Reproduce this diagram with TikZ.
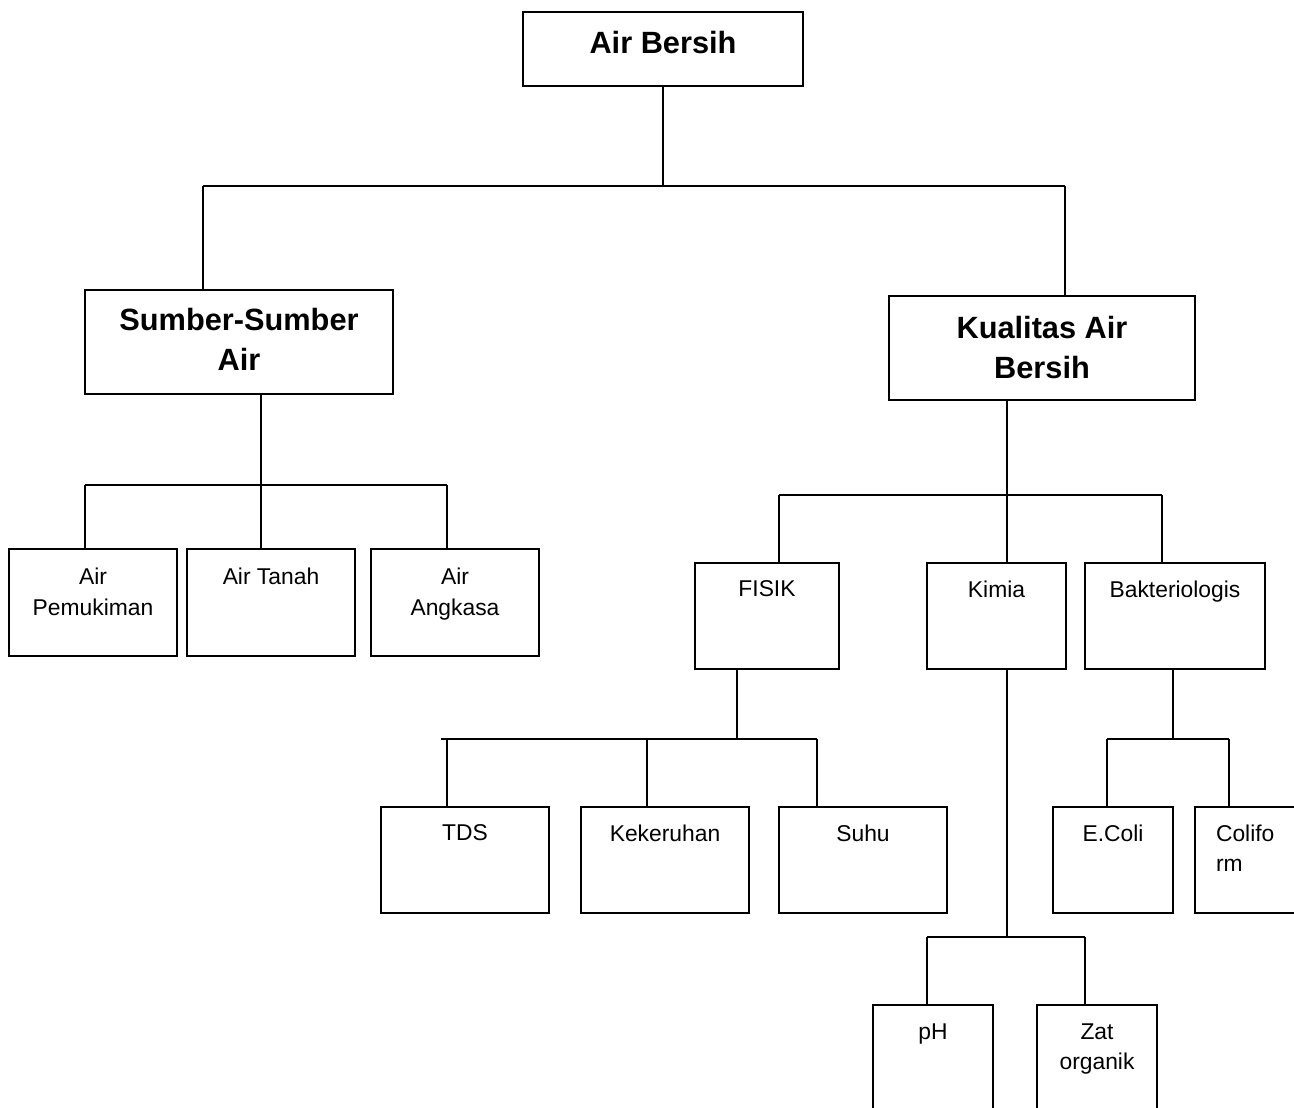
\documentclass[tikz,border=0pt]{standalone}
\usepackage{fontspec}
\setmainfont{Liberation Sans}
\usetikzlibrary{calc}

\begin{document}
\begin{tikzpicture}[x=0.02cm,y=-0.02cm,line width=1.1pt,
        box/.style={draw,inner sep=0pt},
        headbox/.style={box,minimum height=2.08cm},
        leafbox/.style={box,minimum width=3.36cm,minimum height=2.14cm},
        midbox/.style={box,minimum height=2.12cm},
        smallbox/.style={box,minimum width=2.4cm,minimum height=2.12cm},
        lbl/.style={anchor=north,inner sep=0pt,align=center,font=\fontsize{13}{17.5}\selectfont},
        headlbl/.style={anchor=north,inner sep=0pt,align=center,font=\fontsize{17.5}{23}\selectfont\bfseries}]
        \newcommand{\airbarAy}{186}
        \newcommand{\airbarBy}{485}
        \newcommand{\airbarCy}{495}
        \newcommand{\airbarDy}{739}
        \newcommand{\airbarEy}{937}
        \clip (0,0) rectangle (1294,1108);
        % boxes
        \node[box,minimum width=5.6cm,minimum height=1.48cm] (air) at (663,49) {};
        \node[headbox,minimum width=6.16cm] (sumber) at (239,342) {};
        \node[headbox,minimum width=6.12cm] (kualitas) at (1042,348) {};
        \node[leafbox] (pemukiman) at (93,602.5) {};
        \node[leafbox] (tanah) at (271,602.5) {};
        \node[leafbox] (angkasa) at (455,602.5) {};
        \node[midbox,minimum width=2.88cm] (fisik) at (767,616) {};
        \node[midbox,minimum width=2.78cm] (kimia) at (996.5,616) {};
        \node[midbox,minimum width=3.6cm] (bakteri) at (1175,616) {};
        \node[leafbox,minimum height=2.12cm] (tds) at (465,860) {};
        \node[leafbox,minimum height=2.12cm] (keruh) at (665,860) {};
        \node[leafbox,minimum height=2.12cm] (suhu) at (863,860) {};
        \node[smallbox] (ecoli) at (1113,860) {};
        \node[smallbox] (coliform) at (1255,860) {};
        \node[smallbox] (ph) at (933,1058) {};
        \node[smallbox] (zat) at (1097,1058) {};
        % labels
        \node[headlbl] (tair) at ([yshift=-0.38cm]air.north) {Air Bersih};
        \node[headlbl] (tsumber) at ([yshift=-0.36cm]sumber.north) {Sumber-Sumber\\Air};
        \node[headlbl] (tkualitas) at ([yshift=-0.4cm]kualitas.north) {Kualitas Air\\Bersih};
        \node[lbl] (tpemukiman) at ([yshift=-0.38cm]pemukiman.north) {Air\\Pemukiman};
        \node[lbl] (ttanah) at ([yshift=-0.38cm]tanah.north) {Air Tanah};
        \node[lbl] (tangkasa) at ([yshift=-0.38cm]angkasa.north) {Air\\Angkasa};
        \node[lbl] (tfisik) at ([yshift=-0.35cm]fisik.north) {FISIK};
        \node[lbl] (tkimia) at ([yshift=-0.35cm]kimia.north) {Kimia};
        \node[lbl] (tbakteri) at ([yshift=-0.35cm]bakteri.north) {Bakteriologis};
        \node[lbl] (ttds) at ([yshift=-0.35cm]tds.north) {TDS};
        \node[lbl] (tkeruh) at ([yshift=-0.35cm]keruh.north) {Kekeruhan};
        \node[lbl] (tsuhu) at ([yshift=-0.35cm]suhu.north) {Suhu};
        \node[lbl] (tecoli) at ([yshift=-0.35cm]ecoli.north) {E.Coli};
        \node[lbl,anchor=north west,align=left] (tcoliform) at ([xshift=0.42cm,yshift=-0.35cm]coliform.north west) {Colifo\\rm};
        \node[lbl] (tph) at ([yshift=-0.37cm]ph.north) {pH};
        \node[lbl] (tzat) at ([yshift=-0.37cm]zat.north) {Zat\\organik};
        % junctions
        \coordinate (jairl) at (203,\airbarAy);
        \coordinate (jairr) at (1065,\airbarAy);
        \coordinate (jsumm) at (261,\airbarBy);
        \coordinate (jsuml) at (85,\airbarBy);
        \coordinate (jsumr) at (447,\airbarBy);
        \coordinate (jkuam) at (1007,\airbarCy);
        \coordinate (jkual) at (779,\airbarCy);
        \coordinate (jkuar) at (1162,\airbarCy);
        \coordinate (jfism) at (737,\airbarDy);
        \coordinate (jfisl) at (441,\airbarDy);
        \coordinate (jfisa) at (447,\airbarDy);
        \coordinate (jfisb) at (647,\airbarDy);
        \coordinate (jfisr) at (817,\airbarDy);
        \coordinate (jbakm) at (1173,\airbarDy);
        \coordinate (jbakl) at (1107,\airbarDy);
        \coordinate (jbakr) at (1229,\airbarDy);
        \coordinate (jkiml) at (927,\airbarEy);
        \coordinate (jkimr) at (1085,\airbarEy);
        % connectors
        \draw (air.south) -- (air.south |- jairl);
        \draw (jairl) -- (jairr);
        \draw (jairl) -- (jairl |- sumber.north);
        \draw (jairr) -- (jairr |- kualitas.north);
        \draw (jsumm |- sumber.south) -- (jsumm);
        \draw (jsuml) -- (jsumr);
        \draw (jsuml) -- (jsuml |- pemukiman.north);
        \draw (jsumm) -- (jsumm |- tanah.north);
        \draw (jsumr) -- (jsumr |- angkasa.north);
        \draw (jkuam |- kualitas.south) -- (jkuam);
        \draw (jkual) -- (jkuar);
        \draw (jkual) -- (jkual |- fisik.north);
        \draw (jkuam) -- (jkuam |- kimia.north);
        \draw (jkuar) -- (jkuar |- bakteri.north);
        \draw (jfism |- fisik.south) -- (jfism);
        \draw (jfisl) -- (jfisr);
        \draw (jfisa) -- (jfisa |- tds.north);
        \draw (jfisb) -- (jfisb |- keruh.north);
        \draw (jfisr) -- (jfisr |- suhu.north);
        \draw (jkuam |- kimia.south) -- (jkuam |- jkiml);
        \draw (jkiml) -- (jkimr);
        \draw (jkiml) -- (jkiml |- ph.north);
        \draw (jkimr) -- (jkimr |- zat.north);
        \draw (jbakm |- bakteri.south) -- (jbakm);
        \draw (jbakl) -- (jbakr);
        \draw (jbakl) -- (jbakl |- ecoli.north);
        \draw (jbakr) -- (jbakr |- coliform.north);
    \end{tikzpicture}
\end{document}
